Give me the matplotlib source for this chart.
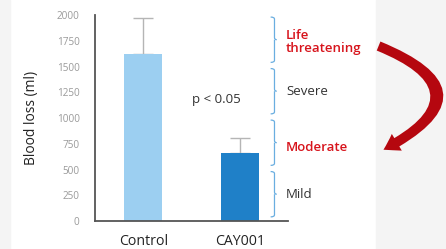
import matplotlib
matplotlib.use("Agg")
import matplotlib.pyplot as plt
from matplotlib.patches import FancyArrowPatch, Rectangle
from matplotlib.path import Path
from matplotlib.patches import PathPatch

plt.rcParams['font.family'] = ['Open Sans', 'DejaVu Sans']

groups = ["Control", "CAY001"]
blood_loss = [1620, 665]
err_upper = [355, 140]
yticks = [0, 250, 500, 750, 1000, 1250, 1500, 1750, 2000]
sev_labels = ["Mild", "Moderate", "Severe", "Life\nthreatening"]
sev_bounds = [(0, 500), (500, 1000), (1000, 1500), (1500, 2000)]
sev_colors = ["#333333", "#d7141c", "#333333", "#d7141c"]
sev_weights = ["normal", "semibold", "normal", "semibold"]
bar_colors = ["#9ccff1", "#1f80c8"]

W, H = 446, 249
fig = plt.figure(figsize=(W / 100, H / 100), dpi=100)
fig.patch.set_facecolor("white")
fig.add_artist(Rectangle((0, 0), 10 / W, 1, transform=fig.transFigure, color="#f4f4f4", zorder=0))
fig.add_artist(Rectangle((376 / W, 0), 1, 1, transform=fig.transFigure, color="#f4f4f4", zorder=0))

ax = fig.add_axes([95 / W, (H - 221) / H, 193 / W, 206 / H])
ax.set_facecolor("none")
x = range(len(groups))
ax.bar(x, blood_loss, width=0.39, color=bar_colors, zorder=2)
ax.errorbar(x, blood_loss, yerr=[[0, 0], err_upper], fmt="none", ecolor="#b5b5b5",
            elinewidth=1.0, capsize=7, capthick=1.0, zorder=1)
ax.set_xlim(-0.5, 1.5)
ax.set_ylim(0, 2000)
ax.set_yticks(yticks)
ax.set_yticklabels([str(v) for v in yticks], color="#9a9a9a", fontsize=7.2)
ax.set_xticks(list(x))
ax.set_xticklabels(groups, fontsize=10.2, color="#222222")
ax.tick_params(axis="y", length=0, pad=11)
ax.tick_params(axis="x", length=0, pad=9)
for s in ["top", "right"]:
    ax.spines[s].set_visible(False)
for s in ["left", "bottom"]:
    ax.spines[s].set_color("#555555")
    ax.spines[s].set_linewidth(1.3)
ax.set_ylabel("Blood loss (ml)", fontsize=10, color="#222222", labelpad=13)

ax.text(0.76, 1180, "p < 0.05", ha="center", va="center", fontsize=9.5, color="#333333")

# braces
bx = 1.36
for (lo, hi), lab, col, fw in zip(sev_bounds, sev_labels, sev_colors, sev_weights):
    lo2, hi2 = lo + 40, hi - 20
    mid = (lo2 + hi2) / 2
    dx = 0.04
    verts = [(bx - dx, hi2), (bx, hi2), (bx, hi2 - 20), (bx, mid + 20), (bx, mid), (bx + dx * 0.6, mid),
             (bx, mid), (bx, mid - 20), (bx, lo2 + 20), (bx, lo2), (bx - dx, lo2)]
    codes = [Path.MOVETO, Path.CURVE3, Path.CURVE3, Path.LINETO, Path.CURVE3, Path.CURVE3,
             Path.MOVETO, Path.CURVE3, Path.LINETO, Path.CURVE3, Path.CURVE3]
    ax.add_patch(PathPatch(Path(verts, codes), fill=False, edgecolor="#6aaee0", lw=0.9, clip_on=False))
    offset = {"Moderate": -50, "Life\nthreatening": -20}.get(lab, 0)
    ax.text(bx + 0.12, mid + offset, lab, ha="left", va="center", fontsize=9.5,
            color=col, fontweight=fw, linespacing=1.05, clip_on=False)

def px(xp, yp):
    return (xp / W, 1 - yp / H)

arrow = FancyArrowPatch(px(376, 45), px(381, 151), transform=fig.transFigure,
                        connectionstyle="arc3,rad=-1.1",
                        arrowstyle="simple,head_width=14,head_length=11,tail_width=7",
                        color="#b5070f", lw=0, zorder=5)
fig.add_artist(arrow)

fig.savefig("out.png", dpi=100, facecolor=fig.get_facecolor())
